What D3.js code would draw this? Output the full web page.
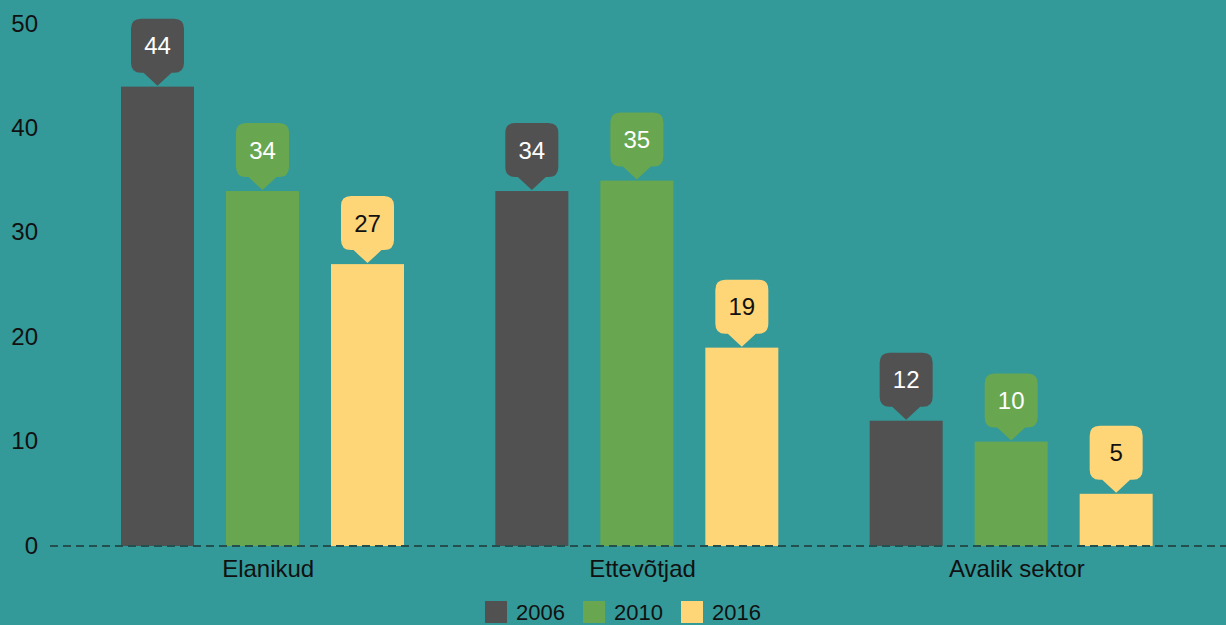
<!DOCTYPE html>
<html>
<head>
<meta charset="utf-8">
<script src="https://cdn.jsdelivr.net/npm/d3@7"></script>
<style>
  html, body { margin: 0; padding: 0; background: #339999; overflow: hidden; }
  svg { display: block; font-family: "Liberation Sans", Arial, sans-serif; }
</style>
</head>
<body>
<div id="chart"></div>
<script>
// chart data
const categories = ['Elanikud', 'Ettevõtjad', 'Avalik sektor'];
const years = ['2006', '2010', '2016'];
const values2006 = [44, 34, 12];
const values2010 = [34, 35, 10];
const values2016 = [27, 19, 5];
const yTicks = [0, 10, 20, 30, 40, 50];
const colors = ['#515151', '#68a74f', '#ffd677'];
const labelText = ['#ffffff', '#ffffff', '#111111'];

const width = 1226, height = 625;
const seriesValues = [values2006, values2010, values2016];

const svg = d3.select('#chart').append('svg')
    .attr('width', width)
    .attr('height', height);

const x0 = d3.scaleBand().domain(categories).range([76, 1199]).paddingInner(0).paddingOuter(0);
const x1 = d3.scaleBand().domain(years).range([45, 328]).paddingInner(32 / 105).paddingOuter(0);
const y = d3.scaleLinear().domain([0, 50]).range([546, 24]);

// y axis labels
svg.append('g')
    .selectAll('text')
    .data(yTicks)
    .join('text')
    .attr('x', 38)
    .attr('y', d => y(d))
    .attr('dy', '0.32em')
    .attr('text-anchor', 'end')
    .attr('font-size', '24px')
    .attr('fill', '#111')
    .text(d => d);

const rows = [];
categories.forEach((c, ci) => {
    years.forEach((yr, si) => {
        rows.push({ cat: c, year: yr, si, value: seriesValues[si][ci] });
    });
});

// bars
svg.append('g')
    .selectAll('rect')
    .data(rows)
    .join('rect')
    .attr('x', d => x0(d.cat) + x1(d.year))
    .attr('y', d => y(d.value))
    .attr('width', x1.bandwidth())
    .attr('height', d => y(0) - y(d.value))
    .attr('fill', d => colors[d.si]);

// baseline
svg.append('line')
    .attr('x1', 50).attr('x2', width)
    .attr('y1', y(0)).attr('y2', y(0))
    .attr('stroke', '#234f4f')
    .attr('stroke-width', 2)
    .attr('stroke-dasharray', '8,5');

// callout labels
const bw = 53, bh = 54, r = 10, tip = 13;
const callout = svg.append('g')
    .selectAll('g')
    .data(rows)
    .join('g')
    .attr('transform', d => `translate(${x0(d.cat) + x1(d.year) + x1.bandwidth() / 2},${y(d.value) - 1})`);

callout.append('path')
    .attr('d', () => {
        const l = -bw / 2, rr = bw / 2, b = -tip, t = -tip - bh;
        return `M0,0 L-14,${b} L${l + r},${b} Q${l},${b} ${l},${b - r} L${l},${t + r} Q${l},${t} ${l + r},${t}` +
            ` L${rr - r},${t} Q${rr},${t} ${rr},${t + r} L${rr},${b - r} Q${rr},${b} ${rr - r},${b} L14,${b} Z`;
    })
    .attr('fill', d => colors[d.si]);

callout.append('text')
    .attr('y', -tip - bh / 2)
    .attr('dy', '0.36em')
    .attr('text-anchor', 'middle')
    .attr('font-size', '24px')
    .attr('fill', d => labelText[d.si])
    .text(d => d.value);

// category labels
svg.append('g')
    .selectAll('text')
    .data(categories)
    .join('text')
    .attr('x', d => x0(d) + x0.bandwidth() / 2 + 5)
    .attr('y', 569)
    .attr('dy', '0.35em')
    .attr('text-anchor', 'middle')
    .attr('font-size', '24px')
    .attr('fill', '#111')
    .text(d => d);

// legend (sits at the bottom edge, as in the original)
const legend = svg.append('g')
    .selectAll('g')
    .data(years)
    .join('g')
    .attr('transform', (d, i) => `translate(${485 + i * 98},601)`);

legend.append('rect')
    .attr('width', 22).attr('height', 22)
    .attr('fill', (d, i) => colors[i]);

legend.append('text')
    .attr('x', 31)
    .attr('y', 11)
    .attr('dy', '0.35em')
    .attr('font-size', '22px')
    .attr('fill', '#111')
    .text(d => d);
</script>
</body>
</html>
